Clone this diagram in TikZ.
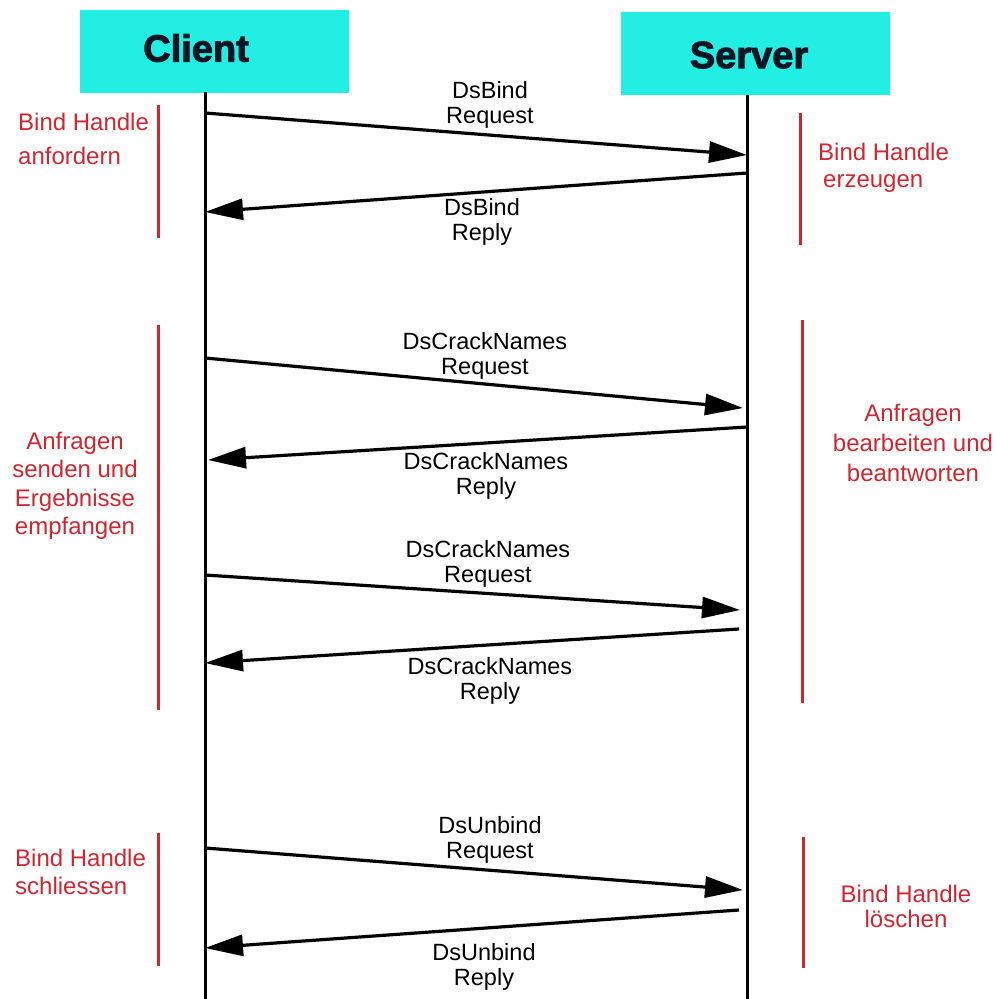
\documentclass[tikz,border=0pt]{standalone}
\usepackage{fontspec}
\setmainfont{Liberation Sans}
\newfontfamily\blackfont[FakeBold=2.5]{Liberation Sans Bold}
\usetikzlibrary{arrows.meta}
\definecolor{boxcyan}{RGB}{34,238,228}
\definecolor{noteRed}{RGB}{204,40,50}
\definecolor{titleInk}{RGB}{10,22,36}
\begin{document}
\begin{tikzpicture}[x=1pt,y=-1pt,
  header/.style={fill=boxcyan,draw=none,minimum width=269pt,minimum height=83pt,inner sep=0},
  headtext/.style={font=\fontsize{38}{40}\blackfont,text=titleInk,inner sep=0},
  lifeline/.style={line width=3pt,draw=black},
  msg/.style={line width=3.2pt,-{Triangle[length=38pt,width=21pt]}},
  msglabel/.style={font=\fontsize{23.5}{24.5}\selectfont,align=center,inner sep=0},
  phase/.style={line width=3pt,draw=noteRed},
  note/.style={text=noteRed,inner sep=0}]
\useasboundingbox (0,0) rectangle (996,999);
% headers
\node[header] (client) at (214.5,51) {};
\node[header] (server) at (755,53) {};
\node[headtext] (clientlabel) at (196,48) {Client};
\node[headtext] (serverlabel) at (749,55) {Server};
% lifelines
\coordinate (ctop) at (205,92);
\coordinate (cbot) at (205,999);
\coordinate (stop) at (747,95);
\coordinate (sbot) at (747,999);
\draw[lifeline] (ctop) -- (cbot);
\draw[lifeline] (stop) -- (sbot);
% message endpoints
\coordinate (m1a) at (205,113); \coordinate (m1b) at (747,155);
\coordinate (m2a) at (747,173); \coordinate (m2b) at (205,212);
\coordinate (m3a) at (205,358); \coordinate (m3b) at (743,408);
\coordinate (m4a) at (747,427); \coordinate (m4b) at (208,460);
\coordinate (m5a) at (205,575); \coordinate (m5b) at (740,610);
\coordinate (m6a) at (739,629); \coordinate (m6b) at (205,663);
\coordinate (m7a) at (205,848); \coordinate (m7b) at (743,890);
\coordinate (m8a) at (739,910); \coordinate (m8b) at (205,948);
\draw[msg] (m1a) -- (m1b);
\draw[msg] (m2a) -- (m2b);
\draw[msg] (m3a) -- (m3b);
\draw[msg] (m4a) -- (m4b);
\draw[msg] (m5a) -- (m5b);
\draw[msg] (m6a) -- (m6b);
\draw[msg] (m7a) -- (m7b);
\draw[msg] (m8a) -- (m8b);
% message labels
\node[msglabel] (l1) at (490,105) {DsBind\\Request};
\node[msglabel] (l2) at (482,222) {DsBind\\Reply};
\node[msglabel] (l3) at (485,356) {DsCrackNames\\Request};
\node[msglabel] (l4) at (486,476) {DsCrackNames\\Reply};
\node[msglabel] (l5) at (488,564) {DsCrackNames\\Request};
\node[msglabel] (l6) at (490,681) {DsCrackNames\\Reply};
\node[msglabel] (l7) at (490,840) {DsUnbind\\Request};
\node[msglabel] (l8) at (484,967) {DsUnbind\\Reply};
% phase bars
\coordinate (p1a) at (158,105); \coordinate (p1b) at (158,238);
\coordinate (p2a) at (158,325); \coordinate (p2b) at (158,710);
\coordinate (p3a) at (158,833); \coordinate (p3b) at (158,966);
\coordinate (q1a) at (800,113); \coordinate (q1b) at (800,245);
\coordinate (q2a) at (802,320); \coordinate (q2b) at (802,703);
\coordinate (q3a) at (803,837); \coordinate (q3b) at (803,968);
\draw[phase] (p1a) -- (p1b);
\draw[phase] (p2a) -- (p2b);
\draw[phase] (p3a) -- (p3b);
\draw[phase] (q1a) -- (q1b);
\draw[phase] (q2a) -- (q2b);
\draw[phase] (q3a) -- (q3b);
% phase notes
\node[note,anchor=west,align=left,font=\fontsize{24}{34}\selectfont] (n1) at (18,139) {Bind Handle\\anfordern};
\node[note,anchor=west,align=left,font=\fontsize{24}{27}\selectfont] (n2) at (818,168) {Bind Handle\\\hspace{5pt}erzeugen};
\node[note,align=center,font=\fontsize{24}{28.5}\selectfont] (n3) at (75,486) {Anfragen\\senden und\\Ergebnisse\\empfangen};
\node[note,align=center,font=\fontsize{24}{30}\selectfont] (n4) at (913,443) {Anfragen\\bearbeiten und\\beantworten};
\node[note,anchor=west,align=left,font=\fontsize{24}{28}\selectfont] (n5) at (15,872) {Bind Handle\\schliessen};
\node[note,align=center,font=\fontsize{24}{25}\selectfont] (n6) at (906,906) {Bind Handle\\löschen};
\end{tikzpicture}
\end{document}
